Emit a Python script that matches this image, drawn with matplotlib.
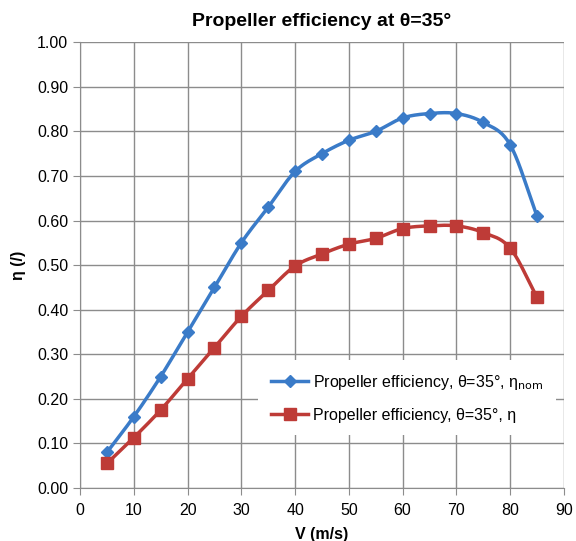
import numpy as np
import matplotlib
matplotlib.use("Agg")
from matplotlib import pyplot as plt

plt.rcParams['font.family'] = ['Liberation Sans', 'DejaVu Sans']

v = [5, 10, 15, 20, 25, 30, 35, 40, 45, 50, 55, 60, 65, 70, 75, 80, 85]
eta_nom = [0.08, 0.16, 0.25, 0.35, 0.45, 0.55, 0.63, 0.71, 0.75, 0.78,
           0.80, 0.83, 0.84, 0.84, 0.82, 0.77, 0.61]
eta = [0.055, 0.113, 0.175, 0.245, 0.315, 0.385, 0.443, 0.498, 0.525, 0.547,
       0.560, 0.582, 0.588, 0.588, 0.573, 0.538, 0.428]


def smooth(xs, ys, n=20):
    # Catmull-Rom curve through the points, like Excel's smoothed line
    p = np.column_stack([xs, ys]).astype(float)
    p = np.vstack([2 * p[0] - p[1], p, 2 * p[-1] - p[-2]])
    out = []
    t = np.linspace(0, 1, n, endpoint=False)[:, None]
    for i in range(1, len(p) - 2):
        p0, p1, p2, p3 = p[i - 1], p[i], p[i + 1], p[i + 2]
        seg = 0.5 * ((2 * p1) + (-p0 + p2) * t + (2 * p0 - 5 * p1 + 4 * p2 - p3) * t**2
                     + (-p0 + 3 * p1 - 3 * p2 + p3) * t**3)
        out.append(seg)
    out.append(p[-2][None, :])
    out = np.vstack(out)
    return out[:, 0], out[:, 1]


blue = '#3A7BC8'
red = '#BE3B37'

fig = plt.figure(figsize=(5.76, 5.41), dpi=100)
ax = fig.add_axes([0.139, 0.098, 0.840, 0.824])

sx, sy = smooth(v, eta_nom)
ax.plot(sx, sy, color=blue, lw=2.5)
ax.plot(v, eta_nom, ls='none', marker='D', ms=6.5, color=blue)
ax.plot([], [], color=blue, lw=2.5, marker='D', ms=6.5,
        label=r'Propeller efficiency, θ=35°, η$_{\mathrm{nom}}$')

sx, sy = smooth(v, eta)
ax.plot(sx, sy, color=red, lw=2.5)
ax.plot(v, eta, ls='none', marker='s', ms=8, color=red)
ax.plot([], [], color=red, lw=2.5, marker='s', ms=8,
        label='Propeller efficiency, θ=35°, η')

ax.set_xlim(0, 90)
ax.set_ylim(0, 1.0)
ax.set_xticks(np.arange(0, 91, 10))
ax.set_yticks(np.arange(0, 1.01, 0.1))
ax.set_yticklabels(['%.2f' % y for y in np.arange(0, 1.01, 0.1)])
ax.grid(color='#8c8c8c', lw=1)
ax.set_axisbelow(True)
for s in ['top', 'right']:
    ax.spines[s].set_visible(False)
for s in ['left', 'bottom']:
    ax.spines[s].set_color('#8c8c8c')
ax.tick_params(colors='#8c8c8c', labelcolor='black', labelsize=11.5, length=5)
ax.tick_params(axis='x', pad=6)

ax.set_title('Propeller efficiency at θ=35°', fontsize=14, fontweight='bold', pad=12)
ax.set_xlabel('V (m/s)', fontsize=11.5, fontweight='bold', labelpad=6)
ax.set_ylabel('η (/)', fontsize=11.5, fontweight='bold', labelpad=8)

leg = ax.legend(loc='lower right', bbox_to_anchor=(1.0, 0.1), frameon=True,
                fancybox=False, edgecolor='none', framealpha=1, fontsize=11.5,
                handlelength=2.3, handletextpad=0.3, borderpad=0.8, labelspacing=1.0)

fig.savefig('out.png', dpi=100)
